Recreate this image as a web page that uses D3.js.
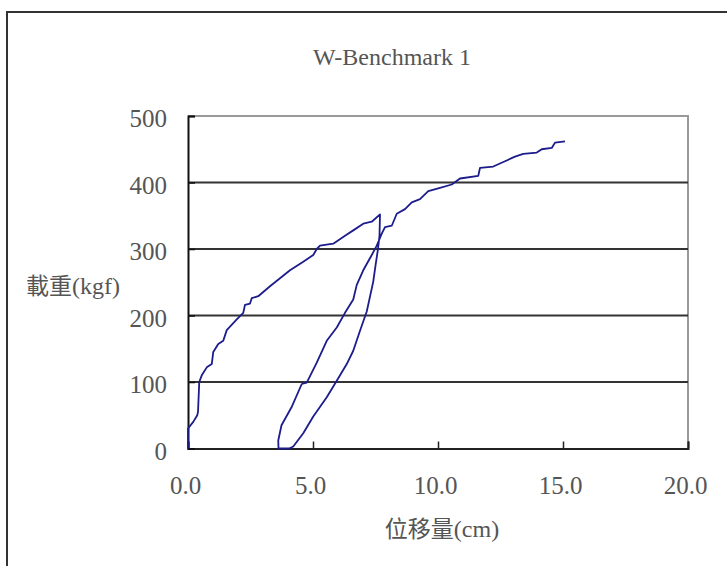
<!DOCTYPE html>
<html>
<head>
<meta charset="utf-8">
<script src="https://cdn.jsdelivr.net/npm/d3@7"></script>
<style>
  body { margin: 0; background: #fff; }
  text { font-family: "Liberation Serif", "Times New Roman", serif; fill: #555; }
  .cjk { font-family: "Noto Sans CJK TC", "Noto Sans CJK SC", sans-serif; }
</style>
</head>
<body>
<div id="grafico"></div>
<script>
// valores
const titulo = "W-Benchmark 1";
const xTicks = [0, 5, 10, 15, 20];
const yTicks = [0, 100, 200, 300, 400, 500];

// deslocamento (cm) e carga (kgf) ao longo do ensaio
const desloc = [
  0, 0, 0.21, 0.37, 0.40, 0.45, 0.55, 0.75, 0.95, 1.01, 1.21, 1.41, 1.55, 1.95, 2.21, 2.28, 2.48, 2.55, 2.81,
  3.28, 3.68, 4.08, 4.61, 5.01, 5.15, 5.28, 5.81, 6.28, 6.61, 7.01, 7.35, 7.68,
  7.66, 7.60, 7.50, 7.41, 7.15, 6.88, 6.61, 6.35, 5.95, 5.55, 5.01, 4.61, 4.21, 4.05, 3.62,
  3.61, 3.74, 4.14, 4.55, 4.75, 5.15, 5.55, 5.95, 6.28, 6.61, 6.75, 7.01, 7.35, 7.55, 7.75, 7.88,
  8.15, 8.35, 8.68, 8.95, 9.28, 9.61, 10.08, 10.55, 10.88, 11.61, 11.68, 12.21, 12.68, 13.08, 13.41,
  13.95, 14.15, 14.55, 14.68, 15.08
];
const carga = [
  0, 30, 40, 50, 55, 100, 110, 122, 127, 145, 157, 162, 178, 194, 204, 216, 218, 226, 229,
  244, 256, 268, 281, 291, 300, 305, 308, 320, 328, 338, 341, 352,
  320, 300, 275, 251, 206, 177, 147, 127, 102, 77, 48, 23, 3, 0, 0,
  12, 35, 62, 97, 99, 129, 162, 182, 204, 224, 246, 268, 291, 305, 323, 333,
  335, 353, 360, 370, 375, 387, 392, 397, 406, 410, 422, 424, 432, 439, 443,
  445, 450, 452, 460, 462
];

const W = 727, H = 566;
const margem = { left: 188, right: 688, top: 116, bottom: 448.5 };

const svg = d3.select("#grafico")
  .append("svg")
    .attr("width", W)
    .attr("height", H);

// moldura externa
svg.append("path")
  .attr("d", `M7,${H} L7,12 L${W},12`)
  .attr("fill", "none")
  .attr("stroke", "#333")
  .attr("stroke-width", 2);

const x = d3.scaleLinear().domain([0, 20]).range([margem.left, margem.right]);
const y = d3.scaleLinear().domain([0, 500]).range([margem.bottom, margem.top]);

// borda cinza da área do gráfico
svg.append("path")
  .attr("d", `M${margem.left},${margem.top} L${margem.right},${margem.top} L${margem.right},${margem.bottom}`)
  .attr("fill", "none")
  .attr("stroke", "#999")
  .attr("stroke-width", 2);

// linhas de grade
svg.selectAll(".grade")
  .data(yTicks.filter(d => d > 0 && d < 500))
  .enter()
  .append("line")
    .attr("x1", margem.left)
    .attr("x2", margem.right)
    .attr("y1", d => y(d))
    .attr("y2", d => y(d))
    .attr("stroke", "#333")
    .attr("stroke-width", 2);

// eixo x
const eixoX = svg.append("g")
  .attr("transform", `translate(0,${margem.bottom})`)
  .call(d3.axisBottom(x).tickValues(xTicks).tickSize(-7).tickPadding(28).tickFormat(d3.format(".1f")));
eixoX.select(".domain").attr("stroke", "#222").attr("stroke-width", 2);
eixoX.selectAll(".tick line").attr("stroke", "#222").attr("stroke-width", 1.5);
eixoX.selectAll("text")
  .attr("font-size", "25px")
  .attr("font-family", "Liberation Serif")
  .attr("fill", "#555")
  .attr("dx", "-3px");

// eixo y
const eixoY = svg.append("g")
  .attr("transform", `translate(${margem.left},0)`)
  .call(d3.axisLeft(y).tickValues(yTicks).tickSize(-7).tickPadding(21));
eixoY.select(".domain").attr("stroke", "#111").attr("stroke-width", 2);
eixoY.selectAll(".tick line").attr("stroke", "#111").attr("stroke-width", 1.5);
eixoY.selectAll("text")
  .attr("font-size", "25px")
  .attr("font-family", "Liberation Serif")
  .attr("fill", "#555")
  .attr("dy", "0.42em");

// curva carga x deslocamento
const pontos = desloc.map((d, i) => [d, carga[i]]);
svg.append("path")
  .datum(pontos)
  .attr("fill", "none")
  .attr("stroke", "#1c1c8c")
  .attr("stroke-width", 1.8)
  .attr("stroke-linejoin", "round")
  .attr("d", d3.line().x(d => x(d[0])).y(d => y(d[1])));

// título
svg.append("text")
  .attr("x", 392)
  .attr("y", 65)
  .attr("text-anchor", "middle")
  .attr("font-size", "24px")
  .text(titulo);

// rótulos dos eixos
svg.append("text")
  .attr("x", 442)
  .attr("y", 537)
  .attr("text-anchor", "middle")
  .attr("font-size", "24px")
  .html('<tspan class="cjk" font-size="23px">位移量</tspan>(cm)');

svg.append("text")
  .attr("x", 26)
  .attr("y", 294)
  .attr("font-size", "24px")
  .html('<tspan class="cjk" font-size="23px">載重</tspan>(kgf)');
</script>
</body>
</html>
